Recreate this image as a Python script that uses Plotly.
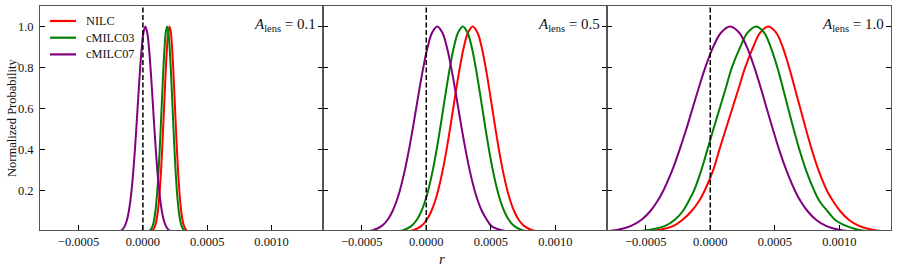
import plotly.graph_objects as go

# ---------------- data ----------------
series_names = ["NILC", "cMILC03", "cMILC07"]
series_colors = ["#ff0000", "#008000", "#800080"]
a_lens_labels = ["0.1", "0.5", "1.0"]

# normalized-probability levels at which the r positions were read
# (left flank -> peak -> right flank)
prob_levels = [0.003, 0.01, 0.03, 0.06, 0.1, 0.15, 0.2, 0.3, 0.4, 0.5, 0.6, 0.7, 0.8, 0.9, 0.97, 1.0,
               0.97, 0.9, 0.8, 0.7, 0.6, 0.5, 0.4, 0.3, 0.2, 0.15, 0.1, 0.06, 0.03, 0.01, 0.003]

# r positions, in units of 1e-5
# A_lens = 0.1
r_nilc_a01 = [6.21, 7.80, 9.45, 10.62, 11.58, 12.42, 13.08, 14.10, 14.95, 15.70, 16.40, 17.11, 17.86, 18.75, 19.65, 20.7,
              21.75, 22.65, 23.54, 24.29, 25.00, 25.70, 26.45, 27.30, 28.32, 28.98, 29.82, 30.78, 31.95, 33.60, 35.19]
r_cmilc03_a01 = [4.31, 5.90, 7.55, 8.72, 9.68, 10.52, 11.18, 12.20, 13.05, 13.80, 14.50, 15.21, 15.96, 16.85, 17.75, 18.8,
                 19.85, 20.75, 21.64, 22.39, 23.10, 23.80, 24.55, 25.40, 26.42, 27.08, 27.92, 28.88, 30.05, 31.70, 33.29]
r_cmilc07_a01 = [-18.55, -16.31, -13.99, -12.33, -10.98, -9.79, -8.86, -7.41, -6.22, -5.16, -4.17, -3.17, -2.11, -0.85, 0.42, 1.9,
                 3.38, 4.65, 5.91, 6.97, 7.97, 8.96, 10.02, 11.21, 12.66, 13.59, 14.78, 16.13, 17.79, 20.11, 22.35]
# A_lens = 0.5
r_nilc_a05 = [-15.14, -9.53, -3.72, 0.42, 3.81, 6.78, 9.09, 12.72, 15.69, 18.34, 20.83, 23.32, 25.98, 29.11, 32.29, 36.0,
              39.71, 42.89, 46.02, 48.68, 51.17, 53.66, 56.31, 59.28, 62.91, 65.22, 68.19, 71.58, 75.72, 81.53, 87.14]
r_cmilc03_a05 = [-22.84, -17.23, -11.42, -7.28, -3.89, -0.92, 1.39, 5.02, 7.99, 10.64, 13.13, 15.62, 18.28, 21.41, 24.59, 28.3,
                 32.01, 35.19, 38.32, 40.98, 43.47, 45.96, 48.61, 51.58, 55.21, 57.52, 60.49, 63.88, 68.02, 73.83, 79.44]
r_cmilc07_a05 = [-46.73, -40.67, -34.40, -29.93, -26.27, -23.06, -20.56, -16.64, -13.43, -10.57, -7.88, -5.19, -2.32, 1.06, 4.50, 8.5,
                 12.50, 15.94, 19.32, 22.19, 24.88, 27.57, 30.43, 33.64, 37.56, 40.06, 43.26, 46.93, 50.27, 57.67, 63.73]
# A_lens = 1.0
r_nilc_a10 = [-50.0, -40.0, -28.5, -21.5, -14.8, -8.8, -4.5, 2.2, 7.0, 12.0, 17.0, 22.0, 27.0, 33.2, 38.7, 45.1,
              51.0, 56.1, 61.1, 65.5, 69.8, 74.1, 78.7, 83.9, 90.5, 95.2, 100.9, 107.2, 115.3, 126.4, 137.1]
r_cmilc03_a10 = [-58.0, -48.0, -35.0, -27.5, -21.5, -16.8, -12.7, -7.0, -2.3, 2.4, 7.2, 12.0, 16.7, 23.2, 28.9, 35.6,
                 41.7, 46.8, 52.0, 56.3, 60.4, 64.6, 69.1, 74.2, 80.6, 84.7, 91.0, 96.6, 105.3, 115.4, 126.6]
r_cmilc07_a10 = [-83.4, -72.5, -61.3, -53.3, -46.7, -41.0, -36.5, -29.5, -23.8, -18.6, -13.8, -9.0, -3.9, 2.2, 8.3, 15.5,
                 22.4, 28.4, 34.2, 39.2, 43.8, 48.5, 53.4, 59.0, 65.7, 70.0, 75.6, 81.9, 89.6, 100.5, 111.0]

panels_r = [
    [r_nilc_a01, r_cmilc03_a01, r_cmilc07_a01],
    [r_nilc_a05, r_cmilc03_a05, r_cmilc07_a05],
    [r_nilc_a10, r_cmilc03_a10, r_cmilc07_a10],
]

x_tick_vals = [-50, 0, 50, 100]          # units of 1e-5
x_tick_text = ["\u22120.0005", "0.0000", "0.0005", "0.0010"]
x_range = [-80, 140]
y_tick_vals = [0.2, 0.4, 0.6, 0.8, 1.0]
y_tick_text = ["0.2", "0.4", "0.6", "0.8", "1.0"]
y_range = [0.01, 1.1]

# ---------------- figure ----------------
W, H = 897, 273
ML, MR, MT, MB = 40, 6, 6, 43
PW = W - ML - MR
PH = H - MT - MB
FONT = "Liberation Serif, Times New Roman, serif"
FRAME = "#555555"

edges_px = [40, 323, 607, 891]
domains = [[(edges_px[i] - ML) / PW, (edges_px[i + 1] - ML) / PW] for i in range(3)]

fig = go.Figure()

for p in range(3):
    xa = "x" if p == 0 else f"x{p+1}"
    ya = "y" if p == 0 else f"y{p+1}"
    for s in range(3):
        fig.add_trace(go.Scatter(
            x=panels_r[p][s], y=prob_levels, mode="lines",
            line=dict(color=series_colors[s], width=2, shape="spline", smoothing=1.0),
            name=series_names[s], showlegend=False, xaxis=xa, yaxis=ya,
            hoverinfo="skip",
        ))
    fig.add_shape(type="line", xref=xa, yref=f"{ya} domain", x0=0, x1=0, y0=0, y1=1,
                  line=dict(color="black", width=1.5, dash="5px,2.5px"), layer="above")
    fig.add_annotation(xref=f"{xa} domain", yref=f"{ya} domain", x=1, y=0.915,
                       xanchor="right", yanchor="middle", xshift=-5, showarrow=False,
                       text=f"<i>A</i><sub>lens</sub> = {a_lens_labels[p]}",
                       font=dict(family=FONT, size=15, color="#111"))

axis_common = dict(showgrid=False, zeroline=False, showline=True, linecolor=FRAME, linewidth=1,
                   ticks="inside", ticklen=5, tickwidth=1, tickcolor="black",
                   tickfont=dict(family=FONT, size=12.5, color="#111"))

layout_axes = {}
for p in range(3):
    xk = "xaxis" if p == 0 else f"xaxis{p+1}"
    yk = "yaxis" if p == 0 else f"yaxis{p+1}"
    ya = "y" if p == 0 else f"y{p+1}"
    xa = "x" if p == 0 else f"x{p+1}"
    layout_axes[xk] = dict(axis_common, domain=domains[p], range=x_range,
                           tickvals=x_tick_vals, ticktext=x_tick_text, mirror=True,
                           anchor=ya, ticklabelstandoff=0)
    layout_axes[yk] = dict(axis_common, domain=[0, 1], range=y_range,
                           tickvals=y_tick_vals, ticktext=y_tick_text, mirror="ticks",
                           anchor=xa, showticklabels=(p == 0), ticklabelstandoff=3)

fig.update_layout(
    width=W, height=H, margin=dict(l=ML, r=MR, t=MT, b=MB),
    paper_bgcolor="white", plot_bgcolor="white",
    font=dict(family=FONT, color="#111"),
    **layout_axes,
)

# legend drawn in panel 1 (upper left)
leg_y_px = [21, 37.7, 54.4]
for s in range(3):
    yp = (PH + MT - leg_y_px[s]) / PH
    fig.add_shape(type="line", xref="x domain", yref="paper",
                  x0=10 / 283, x1=36 / 283, y0=yp, y1=yp,
                  line=dict(color=series_colors[s], width=2.2))
    fig.add_annotation(xref="x domain", yref="paper", x=44 / 283, y=yp,
                       xanchor="left", yanchor="middle", showarrow=False,
                       text=series_names[s], font=dict(family=FONT, size=12.3, color="#111"))

fig.add_annotation(xref="paper", yref="paper", x=(442 - ML) / PW, y=-(259 - (MT + PH)) / PH,
                   xanchor="center", yanchor="middle", showarrow=False,
                   text="<i>r</i>", font=dict(family=FONT, size=15, color="#111"))
fig.add_annotation(xref="paper", yref="paper", x=(12 - ML) / PW, y=(MT + PH - 118) / PH,
                   xanchor="center", yanchor="middle", showarrow=False, textangle=-90,
                   text="Normalized Probability", font=dict(family=FONT, size=12.5, color="#111"))

fig.write_html("out.html", config={"displayModeBar": False},
               post_script="document.body.style.margin='0px';")
